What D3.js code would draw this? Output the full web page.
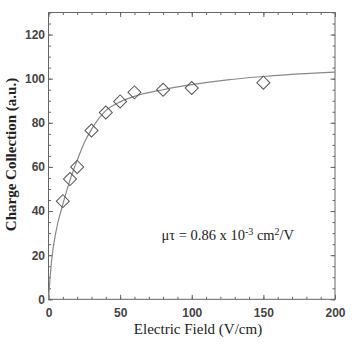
<!DOCTYPE html>
<html lang="en">
<head>
    <meta charset="UTF-8">
    <title>Charge collection</title>
    <script src="https://d3js.org/d3.v7.min.js"></script>
    <style>
        body { margin: 0; background: #fff; }
    </style>
</head>
<body>
    <script>
        // measured points (diamonds)
        const fieldV = [10, 15, 20, 30, 40, 50, 60, 80, 100, 150];
        const charge = [44.5, 54.5, 60, 76.5, 84.7, 89.7, 93.8, 95, 95.8, 98.2];

        // fitted curve
        const fitField = [0, 1, 2.5, 5, 10, 15, 20, 25, 30, 40, 50, 60, 80, 100, 125, 150, 175, 200];
        const fitCharge = [0, 9, 19.5, 30, 43, 54, 63, 71, 77, 85.5, 89.5, 92, 95, 97.3, 99.5, 101, 102.2, 103];

        const xTicks = [0, 50, 100, 150, 200];
        const yTicks = [0, 20, 40, 60, 80, 100, 120];

        const W = 352, H = 349;
        const plotL = 48.5, plotR = 335, plotT = 12.5, plotB = 299.3;

        const svg = d3.select("body").append("svg")
            .attr("width", W).attr("height", H);

        const x = d3.scaleLinear().domain([0, 200]).range([plotL, plotR]);
        const y = d3.scaleLinear().domain([0, 130]).range([plotB, plotT]);

        const frame = "#666";

        // minor ticks on all four sides, pointing inwards
        function minor(axis, pos, values) {
            return svg.append("g")
                .attr("transform", pos)
                .call(axis.tickValues(values).tickSize(-2.5).tickFormat(""))
                .call(g => g.select(".domain").remove())
                .call(g => g.selectAll("line").attr("stroke", frame));
        }
        const xMinor = d3.range(0, 201, 10);
        const yMinor = d3.range(0, 131, 5);
        minor(d3.axisBottom(x), "translate(0," + plotB + ")", xMinor);
        minor(d3.axisTop(x), "translate(0," + plotT + ")", xMinor);
        minor(d3.axisLeft(y), "translate(" + plotL + ",0)", yMinor);
        minor(d3.axisRight(y), "translate(" + plotR + ",0)", yMinor);

        // major ticks
        function major(axis, pos, values, labels) {
            const g = svg.append("g")
                .attr("transform", pos)
                .call(axis.tickValues(values).tickSize(-4.5).tickPadding(labels ? 8 : 0)
                    .tickFormat(labels ? d3.format("d") : ""));
            g.select(".domain").remove();
            g.selectAll("line").attr("stroke", frame);
            g.selectAll("text")
                .attr("font-family", "Liberation Sans, Arial, sans-serif")
                .attr("font-weight", "bold")
                .attr("font-size", 12)
                .attr("fill", "#444");
            return g;
        }
        major(d3.axisBottom(x), "translate(0," + plotB + ")", xTicks, true)
            .selectAll("text").attr("dy", "0.8em");
        major(d3.axisTop(x), "translate(0," + plotT + ")", xTicks, false);
        major(d3.axisLeft(y), "translate(" + plotL + ",0)", yTicks, true)
            .selectAll("text").attr("x", -3.5);
        major(d3.axisRight(y), "translate(" + plotR + ",0)", yTicks, false);

        // frame
        svg.append("rect")
            .attr("x", plotL).attr("y", plotT)
            .attr("width", plotR - plotL).attr("height", plotB - plotT)
            .attr("fill", "none").attr("stroke", frame).attr("stroke-width", 1);

        // fit curve
        const line = d3.line()
            .x(d => x(d[0]))
            .y(d => y(d[1]))
            .curve(d3.curveMonotoneX);
        svg.append("path")
            .datum(d3.zip(fitField, fitCharge))
            .attr("d", line)
            .attr("fill", "none")
            .attr("stroke", "#888")
            .attr("stroke-width", 1.2);

        // diamonds
        const diamond = d3.symbol().type(d3.symbolSquare).size(85);
        svg.selectAll(".pt")
            .data(d3.zip(fieldV, charge))
            .enter().append("path")
            .attr("class", "pt")
            .attr("d", diamond)
            .attr("transform", d => "translate(" + x(d[0]) + "," + y(d[1]) + ") rotate(45)")
            .attr("fill", "none")
            .attr("stroke", "#555")
            .attr("stroke-width", 1);

        // axis titles
        svg.append("text")
            .attr("transform", "translate(15.5,154.5) rotate(-90)")
            .attr("text-anchor", "middle")
            .attr("font-family", "Liberation Serif, Times New Roman, serif")
            .attr("font-weight", "bold")
            .attr("font-size", 15)
            .attr("fill", "#222")
            .text("Charge Collection (a.u.)");

        svg.append("text")
            .attr("x", 198).attr("y", 334)
            .attr("text-anchor", "middle")
            .attr("font-family", "Liberation Serif, Times New Roman, serif")
            .attr("font-size", 15)
            .attr("fill", "#222")
            .text("Electric Field (V/cm)");

        // annotation
        const note = svg.append("text")
            .attr("x", 161.5).attr("y", 240)
            .attr("font-family", "Liberation Serif, Times New Roman, serif")
            .attr("font-size", 14.5)
            .attr("fill", "#222");
        note.append("tspan").text("\u03bc\u03c4 = 0.86 x 10");
        note.append("tspan").attr("dy", -5.5).attr("font-size", 10).text("-3");
        note.append("tspan").attr("dy", 5.5).text(" cm");
        note.append("tspan").attr("dy", -5.5).attr("font-size", 10).text("2");
        note.append("tspan").attr("dy", 5.5).text("/V");
    </script>
</body>
</html>
